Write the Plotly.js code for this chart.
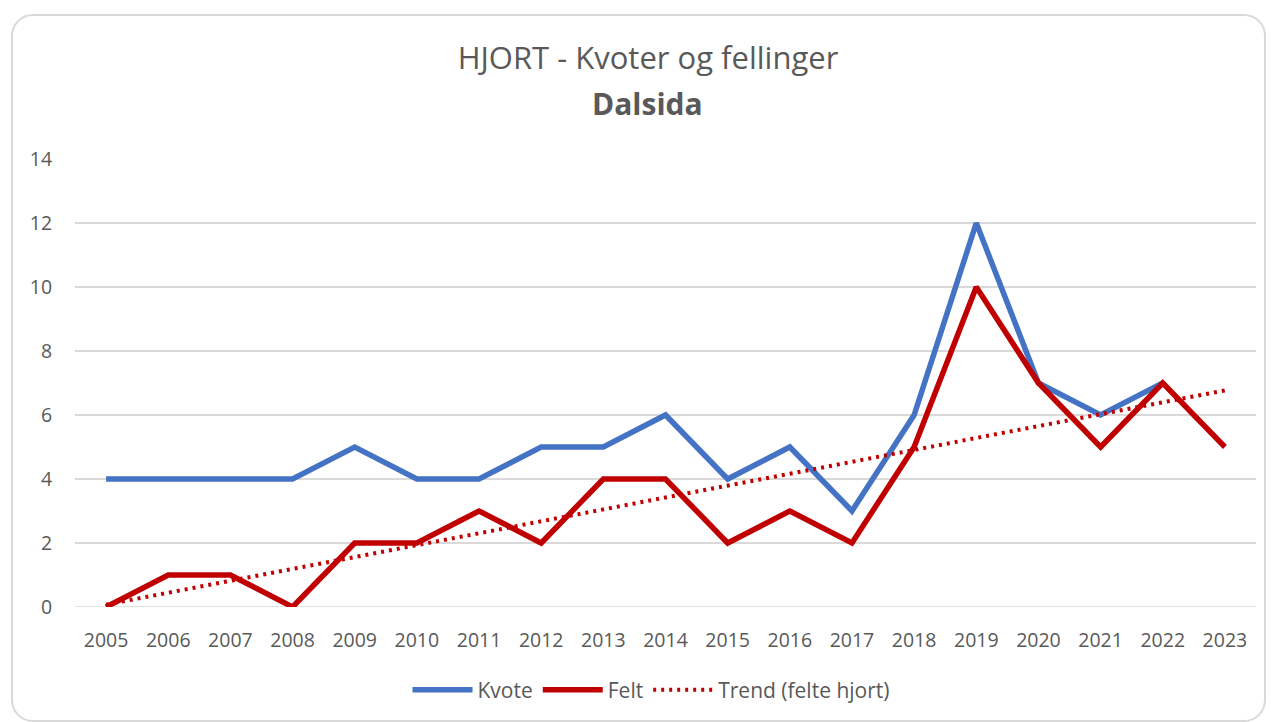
<!DOCTYPE html>
<html>
<head>
<meta charset="utf-8">
<script src="https://cdn.plot.ly/plotly-3.0.1.min.js"></script>
<style>
  html, body { margin: 0; padding: 0; background: #ffffff; }
  #wrap { position: relative; width: 1271px; height: 722px; overflow: hidden; }
  #frame { position: absolute; left: 11px; top: 14px; width: 1255px; height: 708px;
           border: 2px solid #d9d9d9; border-radius: 22px; box-sizing: border-box; background: #fff; }
  #chart { position: absolute; left: 0; top: 0; width: 1271px; height: 722px; }
</style>
</head>
<body>
<div id="wrap">
  <div id="frame"></div>
  <div id="chart"></div>
</div>
<script>
const years = ['2005','2006','2007','2008','2009','2010','2011','2012','2013','2014',
               '2015','2016','2017','2018','2019','2020','2021','2022','2023'];
const kvote = [4, 4, 4, 4, 5, 4, 4, 5, 5, 6, 4, 5, 3, 6, 12, 7, 6, 7, null];
const felt  = [0, 1, 1, 0, 2, 2, 3, 2, 4, 4, 2, 3, 2, 5, 10, 7, 5, 7, 5];
const titleMain = 'HJORT - Kvoter og fellinger';
const titleSub = 'Dalsida';
const yTicks = [0, 2, 4, 6, 8, 10, 12, 14];

// Linear trendline (least squares) fitted to the Felt series, as in the spreadsheet trendline
const n = felt.length;
let sx = 0, sy = 0, sxy = 0, sxx = 0;
felt.forEach((v, i) => { sx += i; sy += v; sxy += i * v; sxx += i * i; });
const slope = (n * sxy - sx * sy) / (n * sxx - sx * sx);
const intercept = (sy - slope * sx) / n;
const trend = felt.map((_, i) => intercept + slope * i);

const fontFam = '"Open Sans", "Noto Sans", sans-serif';
const grey = '#595959';

const traces = [
  { x: years, y: kvote, name: 'Kvote', type: 'scatter', mode: 'lines',
    line: { color: '#4472C4', width: 5.5 }, connectgaps: false },
  { x: years, y: felt, name: 'Felt', type: 'scatter', mode: 'lines',
    line: { color: '#C00000', width: 5.5 } },
  { x: years, y: trend, name: 'Trend (felte hjort)', type: 'scatter', mode: 'lines',
    line: { color: '#C00000', width: 4, dash: '3px,5px' } }
];

const layout = {
  width: 1271, height: 722,
  paper_bgcolor: 'rgba(0,0,0,0)', plot_bgcolor: 'rgba(0,0,0,0)',
  margin: { l: 75, r: 15, t: 159, b: 115, pad: 0 },
  font: { family: fontFam, color: grey, size: 19 },
  title: { text: titleMain, x: 648 / 1271, xref: 'container', xanchor: 'center',
           y: 1 - 58 / 722, yref: 'container', yanchor: 'middle',
           font: { family: fontFam, size: 31, color: grey } },
  annotations: [
    { text: '<b>' + titleSub + '</b>', xref: 'paper', yref: 'paper',
      x: (647 - 75) / 1181, y: 1 + (159 - 104) / 448, xanchor: 'center', yanchor: 'middle',
      showarrow: false, font: { family: fontFam, size: 30, color: grey } }
  ],
  xaxis: { type: 'category', range: [-0.5, 18.5], showgrid: false, zeroline: false,
           showline: false, ticks: 'outside', ticklen: 16, tickcolor: 'rgba(0,0,0,0)',
           tickfont: { size: 19.5, color: grey }, fixedrange: true },
  yaxis: { range: [0, 14], tickvals: yTicks, ticktext: yTicks.map(String),
           showgrid: true, gridcolor: '#d9d9d9', gridwidth: 1.5, zeroline: false,
           showline: false, ticks: 'outside', ticklen: 18, tickcolor: 'rgba(0,0,0,0)',
           tickfont: { size: 19.5, color: grey }, fixedrange: true },
  showlegend: true,
  legend: { orientation: 'h', xref: 'container', x: 651 / 1271, xanchor: 'center',
            yref: 'container', y: 1 - 690 / 722, yanchor: 'middle',
            font: { size: 21, color: grey }, bgcolor: 'rgba(0,0,0,0)', itemwidth: 60 },
  shapes: [
    { type: 'line', xref: 'paper', yref: 'y', x0: 0, x1: 1, y0: 0, y1: 0,
      line: { color: '#d9d9d9', width: 1.5 }, layer: 'below' }
  ]
};

Plotly.newPlot('chart', traces, layout, { displayModeBar: false, staticPlot: true });
</script>
</body>
</html>
